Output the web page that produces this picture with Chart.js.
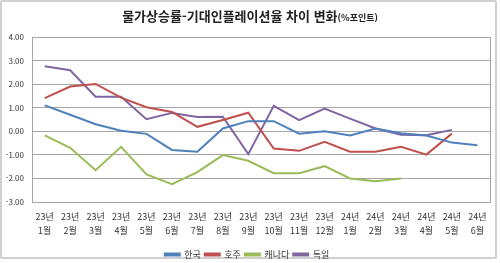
<!DOCTYPE html>
<html lang="ko">
  <head>
    <meta charset="UTF-8" />
    <title>물가상승률-기대인플레이션율 차이 변화</title>
    <style>
      body {
        margin: 0;
        background: #fff;
        font-family: "Noto Sans CJK KR", sans-serif;
      }
      #wrap {
        position: relative;
        width: 500px;
        height: 263px;
        overflow: hidden;
      }
      #frame {
        position: absolute;
        left: 0;
        top: 0;
        width: 497px;
        height: 259px;
        border: 2px solid #d0d0d0;
        box-sizing: border-box;
        border-radius: 2px;
      }
      #titulo {
        position: absolute;
        left: 0;
        top: 6px;
        width: 500px;
        text-align: center;
        font-size: 13px;
        font-weight: bold;
        color: #222;
      }
      #titulo small {
        font-size: 9px;
        font-weight: bold;
      }
      canvas {
        position: absolute;
        left: 0;
        top: 0;
      }
    </style>
    <script src="https://cdn.jsdelivr.net/npm/chart.js"></script>
  </head>
  <body>
    <div id="wrap">
      <div id="frame"></div>
      <canvas id="graph" width="500" height="263"></canvas>
      <div id="titulo">물가상승률-기대인플레이션율 차이 변화<small>(%포인트)</small></div>
    </div>

    <script>
      // categorias (mes)
      const years = ["23년","23년","23년","23년","23년","23년","23년","23년","23년","23년","23년","23년","24년","24년","24년","24년","24년","24년"];
      const months = ["1월","2월","3월","4월","5월","6월","7월","8월","9월","10월","11월","12월","1월","2월","3월","4월","5월","6월"];

      // valores
      const korea = [1.10, 0.70, 0.30, 0.02, -0.11, -0.79, -0.87, 0.12, 0.43, 0.43, -0.10, 0.00, -0.18, 0.12, -0.08, -0.18, -0.48, -0.59];
      const australia = [1.41, 1.90, 2.01, 1.43, 1.02, 0.82, 0.19, 0.48, 0.79, -0.73, -0.83, -0.45, -0.87, -0.87, -0.66, -0.99, -0.10, null];
      const canada = [-0.17, -0.70, -1.65, -0.66, -1.83, -2.24, -1.73, -1.01, -1.25, -1.78, -1.78, -1.48, -2.00, -2.12, -2.00, null, null, null];
      const germany = [2.76, 2.59, 1.47, 1.47, 0.51, 0.78, 0.61, 0.62, -0.97, 1.08, 0.47, 0.96, 0.54, 0.12, -0.15, -0.17, 0.06, null];

      const labels = years.map((y, i) => [y, months[i]]);

      // marco del area del grafico
      const plotFrame = {
        id: "plotFrame",
        afterDraw(chart) {
          const { ctx, chartArea: a } = chart;
          ctx.save();
          ctx.strokeStyle = "#a6a6a6";
          ctx.lineWidth = 1;
          ctx.strokeRect(Math.round(a.left) + 0.5, Math.round(a.top) + 0.5, Math.round(a.right - a.left), Math.round(a.bottom - a.top));
          ctx.restore();
        },
      };

      function serie(label, data, color) {
        return {
          label: label,
          data: data,
          borderColor: color,
          backgroundColor: color,
          borderWidth: 2,
          pointRadius: 0,
          tension: 0,
          spanGaps: false,
        };
      }

      new Chart(document.getElementById("graph"), {
        type: "line",
        data: {
          labels: labels,
          datasets: [
            serie("한국", korea, "#4f81bd"),
            serie("호주", australia, "#c0504d"),
            serie("캐나다", canada, "#9bbb59"),
            serie("독일", germany, "#8064a2"),
          ],
        },
        options: {
          responsive: false,
          animation: false,
          layout: { padding: { left: 4, right: 10, top: 37, bottom: -6 } },
          scales: {
            x: {
              offset: true,
              afterFit: (axis) => {
                axis.height = 44;
              },
              grid: { display: false },
              border: { color: "#a6a6a6" },
              ticks: {
                color: "#333",
                font: { family: "Noto Sans CJK KR", size: 9, lineHeight: 1.5 },
                maxRotation: 0,
                autoSkip: false,
                padding: 0,
              },
            },
            y: {
              min: -3,
              max: 4,
              afterFit: (axis) => {
                axis.width = 28;
              },
              grid: { color: "#a6a6a6", drawTicks: false },
              border: { color: "#a6a6a6" },
              ticks: {
                stepSize: 1,
                color: "#333",
                padding: 8,
                font: { family: "Noto Sans CJK KR", size: 8 },
                callback: (v) => v.toFixed(2),
              },
            },
          },
          plugins: {
            title: { display: false },
            tooltip: { enabled: false },
            legend: {
              position: "bottom",
              labels: {
                boxWidth: 15,
                boxHeight: 2,
                padding: 4,
                color: "#333",
                font: { family: "Noto Sans CJK KR", size: 9 },
              },
            },
          },
        },
        plugins: [plotFrame],
      });
    </script>
  </body>
</html>
